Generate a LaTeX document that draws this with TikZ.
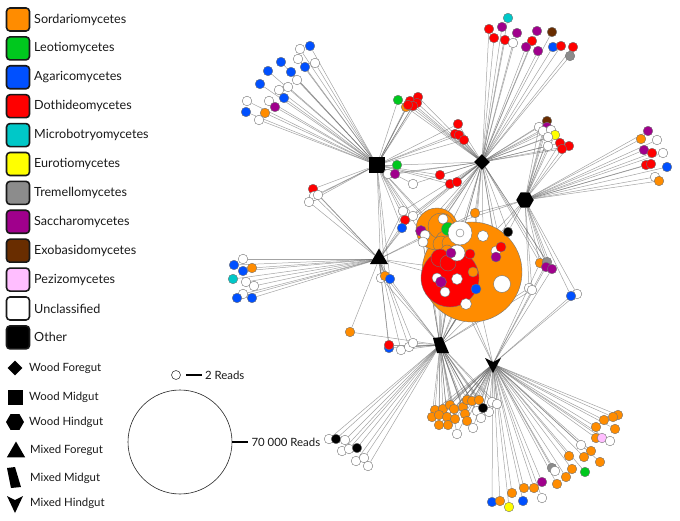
\documentclass[tikz,border=0pt]{standalone}
\usepackage{fontspec}
\setmainfont{Lato}
\usetikzlibrary{shapes.geometric}
\pgfdeclarelayer{bg}
\pgfsetlayers{bg,main}
\definecolor{cO}{RGB}{255,140,0}
\definecolor{cG}{RGB}{0,200,30}
\definecolor{cB}{RGB}{0,80,255}
\definecolor{cR}{RGB}{255,0,0}
\definecolor{cC}{RGB}{0,200,200}
\definecolor{cY}{RGB}{255,255,0}
\definecolor{cK}{RGB}{140,140,140}
\definecolor{cP}{RGB}{160,0,140}
\definecolor{cN}{RGB}{105,45,0}
\definecolor{cI}{RGB}{255,190,255}
\definecolor{cW}{RGB}{255,255,255}
\definecolor{cX}{RGB}{0,0,0}
\newcommand\leafgroup[2]{%
  \foreach \n/\x/\y/\c in {#2} {%
    \node[leaf,fill=\c] (\n) at (\x,\y) {};
    \begin{pgfonlayer}{bg}
      \foreach \hh in {#1} {\draw[edge] (\n) -- (\hh);}
    \end{pgfonlayer}
  }%
}
\begin{document}
\begin{tikzpicture}[x=1pt,y=-1pt,
  leaf/.style={circle,minimum size=9.6pt,inner sep=0pt,draw=black!55,line width=0.4pt},
  blob/.style={circle,inner sep=0pt,draw=black!55,line width=0.4pt},
  edge/.style={draw=black!60,opacity=0.6,line width=0.5pt},
  hub/.style={fill=black,draw=none,inner sep=0pt},
  legbox/.style={rectangle,rounded corners=3.5pt,minimum size=23pt,inner sep=0pt,draw=black!90,line width=1.6pt},
  legtext/.style={anchor=west,inner sep=0pt,text=black!90,font=\fontsize{12.6}{14}\selectfont},
  gutext/.style={anchor=west,inner sep=0pt,text=black!90,font=\fontsize{11.4}{13}\selectfont},
  scaletext/.style={anchor=west,inner sep=0pt,text=black!90,font=\fontsize{11.4}{13}\selectfont}]
\useasboundingbox (0,0) rectangle (680,521);

% ---------- legend: classes ----------
\foreach \i/\c/\t in {0/cO/Sordariomycetes,1/cG/Leotiomycetes,2/cB/Agaricomycetes,3/cR/Dothideomycetes,
  4/cC/Microbotryomycetes,5/cY/Eurotiomycetes,6/cK/Tremellomycetes,7/cP/Saccharomycetes,
  8/cN/Exobasidomycetes,9/cI/Pezizomycetes,10/cW/Unclassified,11/cX/Other} {
  \node[legbox,fill=\c] (L\i) at (18,{19.5+28.9*\i}) {};
  \node[legtext] (T\i) at (34,{19.5+28.9*\i}) {\t};
}

% ---------- legend: gut sections ----------
\node[hub,diamond,minimum width=15pt,minimum height=15pt] (gWF) at (15,368) {};
\node[gutext] (tWF) at (29,368) {Wood Foregut};
\node[hub,minimum size=15pt] (gWM) at (15,397) {};
\node[gutext] (tWM) at (29,397) {Wood Midgut};
\node[hub,regular polygon,regular polygon sides=6,minimum size=18pt] (gWH) at (15,422) {};
\node[gutext] (tWH) at (29,422) {Wood Hindgut};
\node[hub,regular polygon,regular polygon sides=3,minimum size=21pt] (gMF) at (16,452) {};
\node[gutext] (tMF) at (30,450) {Mixed Foregut};
\coordinate (gMM) at (15,478);
\fill (gMM) ++(-8,-10) -- ++(8,-1) -- ++(6,20) -- ++(-10,1) -- cycle;
\node[gutext] (tMM) at (30,478) {Mixed Midgut};
\coordinate (gMH) at (15,503);
\fill (gMH) ++(-8,-7) -- ++(8,4) -- ++(8,-4) -- ++(-8,17) -- cycle;
\node[gutext] (tMH) at (30,503) {Mixed Hindgut};

% ---------- legend: scale ----------
\node[circle,draw=black!75,line width=0.6pt,minimum size=9pt,inner sep=0pt] (s2) at (176,375) {};
\draw[line width=1.3pt] ([xshift=5pt]s2.east) -- ++(16,0) coordinate (s2e);
\node[scaletext] (s2t) at ([xshift=3pt]s2e) {2 Reads};
\node[circle,draw=black!85,line width=0.6pt,minimum size=104pt,inner sep=0pt] (s7) at (180,442) {};
\draw[line width=1.3pt] (s7.east) -- ++(16,0) coordinate (s7e);
\node[scaletext] (s7t) at ([xshift=3pt]s7e) {70 000 Reads};

% ---------- hubs ----------
\node[hub,diamond,minimum width=16pt,minimum height=16pt] (WF) at (482,162) {};
\node[hub,minimum size=16pt] (WM) at (377,165) {};
\node[hub,regular polygon,regular polygon sides=6,minimum size=17.5pt] (WH) at (525,200) {};
\node[hub,regular polygon,regular polygon sides=3,minimum size=21pt] (MF) at (379,259) {};
\coordinate (MM) at (440,345);
\fill (MM) ++(-7,-7) -- ++(9,-1) -- ++(7,16) -- ++(-12,0) -- cycle;
\coordinate (MH) at (493,364);
\fill (MH) ++(-8,-6) -- ++(8,4) -- ++(8,-4) -- ++(-8,15) -- cycle;

% ---------- central blobs ----------
\node[blob,fill=cO,minimum size=100pt] (BO) at (472,272) {};
\node[blob,fill=cR,minimum size=58pt] (RR) at (450,278) {};
\node[blob,fill=cO,minimum size=42pt] (OO) at (437,229) {};
\begin{pgfonlayer}{bg}
\foreach \b in {BO,RR,OO} {\foreach \hh in {WF,WM,WH,MF,MM,MH} {\draw[edge] (\b) -- (\hh);}}
\end{pgfonlayer}
\foreach \n/\x/\y/\c/\s in {
  i1/441/226/cO/26, i2/445/240/cO/18, i3/441/244/cO/16, i4/449/243/cO/14, i5/447/251/cO/12,
  i6/440/258/cR/18, i7/448/263/cR/16} {
  \node[blob,fill=\c,minimum size=\s pt] (\n) at (\x,\y) {};
}

% ---------- leaves ----------
\leafgroup{WM}{a1/300/49/cW, a2/310/46/cB, a3/298/59/cW, a4/315/63/cW, a5/281/62/cB,
  a6/305/67/cB, a7/268/71/cB, a8/291/72/cB, a9/297/80/cW, a10/260/84/cB, a11/288/87/cW,
  a12/279/90/cW, a13/284/98/cB, a14/247/101/cW, a15/269/101/cW, a16/275/107/cP,
  a17/246/112/cB, a18/265/113/cO, a19/259/120/cW, b1/398/100/cG}
\leafgroup{WM,WF}{b2/406/107/cO, b3/410/101/cR, b4/418/97/cR, b5/417/103/cR, b6/413/106/cR,
  b7/408/105/cR, b8/458/124/cR, b9/455/134/cR, b10/459/135/cR, b11/464/140/cR,
  b12/388/174/cW, b13/397/165/cG, b14/395/174/cP, b15/413/184/cW, b16/440/175/cR,
  b17/450/184/cR, b18/457/182/cR}
\leafgroup{WM,MF}{b21/313/189/cR, b19/314/196/cW, b20/318/195/cW, b22/309/202/cW}
\leafgroup{WF}{t1/508/18/cC, t2/489/29/cR, t3/502/27/cP, t4/517/33/cP, t5/537/31/cP,
  t6/552/32/cN, t7/494/38/cR, t8/505/40/cR, t9/513/43/cW, t10/532/41/cR, t11/526/47/cP,
  t12/538/51/cP, t13/553/47/cB, t14/561/46/cR, t15/573/47/cR, t16/570/56/cK}
\leafgroup{WF,WH}{u1/547/121/cN, u2/539/127/cW, u3/547/127/cP, u4/543/131/cW, u5/551/130/cW,
  u6/555/135/cY, u7/548/137/cW, u8/548/146/cW, u9/560/143/cR, u10/569/146/cR, u11/562/149/cR}
\leafgroup{WH}{r1/648/131/cP, r2/641/139/cO, r3/657/140/cW, r4/644/150/cP, r5/652/153/cR,
  r6/663/153/cW, r7/646/165/cR, r8/651/164/cR, r9/667/167/cB, r10/655/177/cW, r11/659/181/cO}
\leafgroup{MF}{l1/243/259/cW, l2/234/265/cB, l3/252/268/cO, l4/243/271/cB, l5/233/279/cC,
  l6/246/282/cW, l7/254/286/cW, l8/243/294/cW, l9/237/298/cB, l10/252/298/cB}
\leafgroup{MF,MM,WM}{m1/381/278/cW, m2/385/276/cO, m3/390/279/cB}
\leafgroup{MF,MM}{m4/350/332/cO, m5/389/348/cB, m6/389/345/cR, m7/401/350/cW,
  m9/409/347/cW, m8/413/343/cW}
\leafgroup{MM}{d1/329/439/cW, d2/336/439/cX, d3/345/440/cW, d4/342/451/cW, d5/349/449/cW,
  d6/357/448/cX, d7/356/461/cW, d8/364/458/cW, d9/368/466/cW}
\leafgroup{MM,MH}{o1/435/410/cO, o2/443/409/cO, o3/450/405/cO, o4/454/409/cO, o5/463/407/cO,
  o6/467/400/cO, o7/472/401/cO, o8/479/400/cO, o9/432/417/cO, o10/439/415/cO, o11/447/417/cO,
  o12/455/419/cO, o13/465/414/cO, o14/467/421/cO, o15/439/425/cO, o16/448/425/cO,
  o17/457/434/cW, o18/473/428/cW, o19/477/411/cW, o20/481/418/cW, o21/489/412/cW,
  o22/492/402/cW, o23/497/404/cW, o24/483/408/cX}
\leafgroup{MH}{h1/618/415/cO, h2/613/417/cO, h3/604/420/cO, h4/615/429/cO, h5/596/427/cO,
  h6/596/438/cO, h7/602/438/cI, h8/610/441/cW, h9/581/445/cW, h10/591/451/cO, h11/584/457/cO,
  h12/569/456/cO, h13/600/462/cO, h14/552/468/cK, h15/555/471/cW, h16/572/469/cO,
  h17/566/477/cO, h18/585/472/cG, h19/557/484/cO, h20/542/482/cP, h21/534/488/cO,
  h22/524/488/cO, h23/542/498/cW, h24/512/493/cO, h25/523/501/cB, h26/492/502/cB,
  h27/500/501/cO, h28/509/507/cY}
\leafgroup{WH,MH,WF}{z1/540/263/cO, z2/547/262/cK, z3/546/267/cP, z4/552/269/cP}
\leafgroup{WH,MM}{z5/529/288/cW, z6/532/290/cW}
\leafgroup{WH,MH}{z7/577/294/cW, z8/571/296/cB}
\leafgroup{WM,MF,WF}{c1/403/211/cW, c2/413/216/cW, c3/405/220/cR, c4/402/228/cB}
\leafgroup{WF,WH,MF}{c5/475/213/cO}
\leafgroup{WF,WH,MM}{c6/508/232/cX}

% ---------- items inside the central blobs ----------
\foreach \n/\x/\y/\c/\s in {
  k1/421/231/cP/11, k2/425/235/cW/10, k3/423/242/cW/10, k4/443/219/cW/10, k5/448/229/cG/13,
  k6/460/233/cW/24, k7/457/253/cW/16, k8/451/253/cP/10, k9/470/254/cR/10, k10/483/236/cW/11,
  k11/496/251/cW/10, k12/501/247/cR/10, k13/496/257/cP/10, k14/473/272/cO/10,
  k15/437/278/cW/10, k16/457/279/cW/11, k17/441/282/cP/11, k18/445/292/cW/10,
  k19/476/289/cB/10, k20/502/284/cW/17, k21/466/304/cW/11, k22/460/233/cW/8} {
  \node[blob,fill=\c,minimum size=\s pt] (\n) at (\x,\y) {};
}
\begin{pgfonlayer}{bg}
\foreach \n in {k1,k2,k3,k4,k5,k6,k7,k10,k11,k12,k20,k21} {\draw[edge] (\n) -- (WF); \draw[edge] (\n) -- (MM);}
\end{pgfonlayer}
\end{tikzpicture}
\end{document}
